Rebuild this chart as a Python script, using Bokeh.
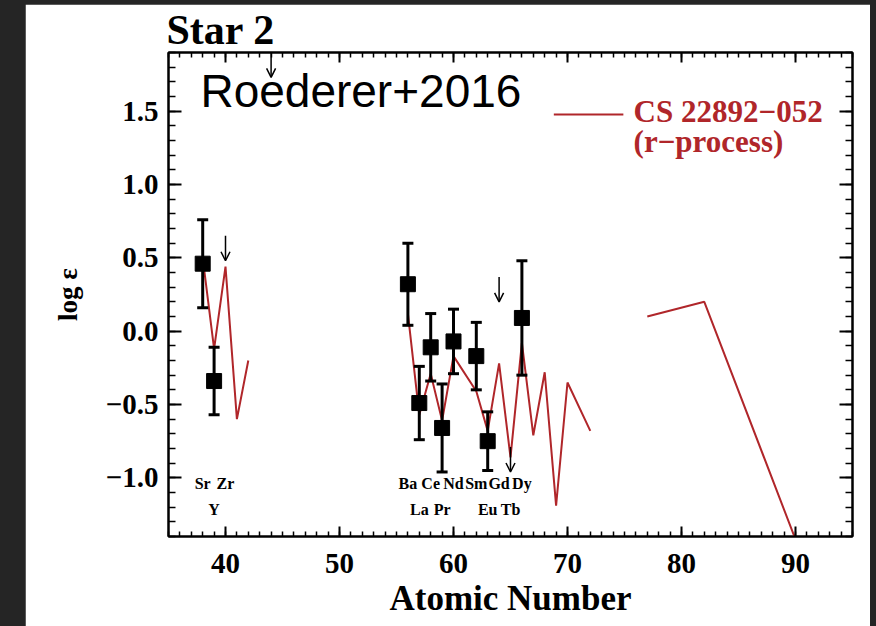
import numpy as np
from bokeh.plotting import figure
from bokeh.layouts import column
from bokeh.models import (LinearAxis, SingleIntervalTicker, Label, Arrow,
                          OpenHead, ColumnDataSource, CustomJSTickFormatter)
from bokeh.core.properties import value
from bokeh.embed import file_html
from bokeh.resources import INLINE

# Star 2 abundances (log eps) with 1-sigma uncertainties
star_z = [38, 39, 56, 57, 58, 59, 60, 62, 63, 66]
star_logeps = [0.46, -0.34, 0.32, -0.49, -0.11, -0.66, -0.07, -0.17, -0.75, 0.09]
star_err = [0.30, 0.23, 0.28, 0.25, 0.23, 0.30, 0.22, 0.23, 0.20, 0.39]

# Upper limits (Zr, Ru, Gd, Tb)
limit_z = [40, 44, 64, 65]
limit_logeps = [0.65, 1.90, 0.37, -0.79]

# Scaled r-process pattern of CS 22892-052 (gaps break the curve)
r_z = [38, 39, 40, 41, 42, np.nan,
       56, 57, 58, 59, 60, 62, 63, 64, 65, 66, 67, 68, 69, 70, 72, np.nan,
       77, 82, 90]
r_logeps = [0.50, -0.12, 0.44, -0.60, -0.20, np.nan,
            0.12, -0.57, -0.29, -0.61, -0.17, -0.41, -0.68, -0.22, -0.86,
            -0.08, -0.71, -0.28, -1.19, -0.35, -0.68, np.nan,
            0.10, 0.20, -1.42]

# Element names written along the bottom of the panel
elem_names = ["Sr", "Y", "Zr", "Ba", "La", "Ce", "Pr", "Nd", "Sm", "Eu", "Gd", "Tb", "Dy"]
elem_z = [38, 39, 40, 56, 57, 58, 59, 60, 62, 63, 64, 65, 66]

# Axis ticks
x_tick_values = [40, 50, 60, 70, 80, 90]
x_tick_labels = ["40", "50", "60", "70", "80", "90"]
y_tick_values = [-1.0, -0.5, 0.0, 0.5, 1.0, 1.5]
y_tick_labels = ["\u22121.0", "\u22120.5", "0.0", "0.5", "1.0", "1.5"]

SERIF = "Liberation Serif"
RED = "#b0262a"

p = figure(width=845, height=622, x_range=(35, 95), y_range=(-1.4, 1.9),
           output_backend="svg", toolbar_location=None,
           min_border_left=143, min_border_right=18, min_border_top=0,
           min_border_bottom=90, outline_line_color="black",
           outline_line_width=2, margin=(4, 6, 0, 25))
p.grid.visible = False

p.title.text = "Star 2"
p.title.text_font = SERIF
p.title.text_font_style = "bold"
p.title.text_font_size = "42px"
p.title.text_color = "black"
p.title.align = "left"
p.title.standoff = 0
p.title.offset = -2


def style_axis(ax, interval, minor, tick_in, minor_in, labels):
    ax.ticker = SingleIntervalTicker(interval=interval, num_minor_ticks=minor)
    ax.axis_line_width = 2
    ax.major_tick_in = tick_in
    ax.major_tick_out = 0
    ax.minor_tick_in = minor_in
    ax.minor_tick_out = 0
    ax.major_tick_line_width = 2
    ax.minor_tick_line_width = 1.5
    ax.major_label_text_font = SERIF
    ax.major_label_text_font_style = "bold"
    ax.major_label_text_color = "black"
    ax.axis_label_text_color = "black"
    if not labels:
        ax.formatter = CustomJSTickFormatter(code="return ''")
        ax.major_label_standoff = 0


xax = p.xaxis[0]
style_axis(xax, 10, 10, 10, 5, True)
xax.major_label_text_font_size = "29px"
xax.major_label_standoff = 17
xax.major_label_overrides = dict(zip(x_tick_values, x_tick_labels))
xax.axis_label = "Atomic Number"
xax.axis_label_text_font = SERIF
xax.axis_label_text_font_style = "bold"
xax.axis_label_text_font_size = "35px"
xax.axis_label_standoff = 3

yax = p.yaxis[0]
style_axis(yax, 0.5, 5, 13, 7, True)
yax.major_label_text_font_size = "29px"
yax.major_label_standoff = 10
yax.major_label_overrides = dict(zip(y_tick_values, y_tick_labels))
yax.axis_label = "log \u03b5"
yax.axis_label_text_font = SERIF
yax.axis_label_text_font_style = "bold"
yax.axis_label_text_font_size = "27px"
yax.axis_label_standoff = 20

top = LinearAxis()
style_axis(top, 10, 10, 10, 5, False)
p.add_layout(top, "above")
right = LinearAxis()
style_axis(right, 0.5, 5, 13, 7, False)
p.add_layout(right, "right")

# r-process reference pattern
p.line(r_z, r_logeps, line_color=RED, line_width=2)

# error bars and caps
lo = [v - e for v, e in zip(star_logeps, star_err)]
hi = [v + e for v, e in zip(star_logeps, star_err)]
p.segment(x0=star_z, y0=lo, x1=star_z, y1=hi, line_color="black", line_width=3)
p.scatter(star_z + star_z, lo + hi, marker="dash", size=11,
          line_color="black", line_width=3)
p.scatter(star_z, star_logeps, marker="square", size=15,
          fill_color="black", line_color="black")

# upper limits as downward arrows
arrow_len = 0.17
lim_src = ColumnDataSource(dict(z=limit_z, y0=limit_logeps,
                                y1=[v - arrow_len for v in limit_logeps]))
p.add_layout(Arrow(x_start="z", y_start="y0", x_end="z", y_end="y1",
                   source=lim_src, line_width=1.5, line_color="black",
                   end=OpenHead(size=9, line_width=1.5, line_color="black")))

# element names: even Z on upper row, odd Z on lower row
elem_y = [-1.036 if z % 2 == 0 else -1.213 for z in elem_z]
p.text(elem_z, elem_y, text=elem_names, text_font=value(SERIF),
       text_font_style="bold", text_font_size="16px", text_align="center",
       text_baseline="alphabetic", text_color="black")

# reference label
p.add_layout(Label(x=37.8, y=1.64, text="Roederer+2016",
                   text_font="Liberation Sans", text_font_size="46px",
                   text_baseline="alphabetic", text_color="black"))

# legend for the reference pattern
p.segment(x0=[68.8], y0=[1.478], x1=[74.9], y1=[1.478],
          line_color=RED, line_width=2)
p.add_layout(Label(x=75.8, y=1.50, text="CS 22892\u2212052", text_font=SERIF,
                   text_font_style="bold", text_font_size="31px",
                   text_baseline="alphabetic", text_color=RED))
p.add_layout(Label(x=75.8, y=1.295, text="(r\u2212process)", text_font=SERIF,
                   text_font_style="bold", text_font_size="31px",
                   text_baseline="alphabetic", text_color=RED))

page = column(p, width=876, height=626,
              styles={"background-color": "#252525"})
open("out.html", "w").write(file_html(page, INLINE))
